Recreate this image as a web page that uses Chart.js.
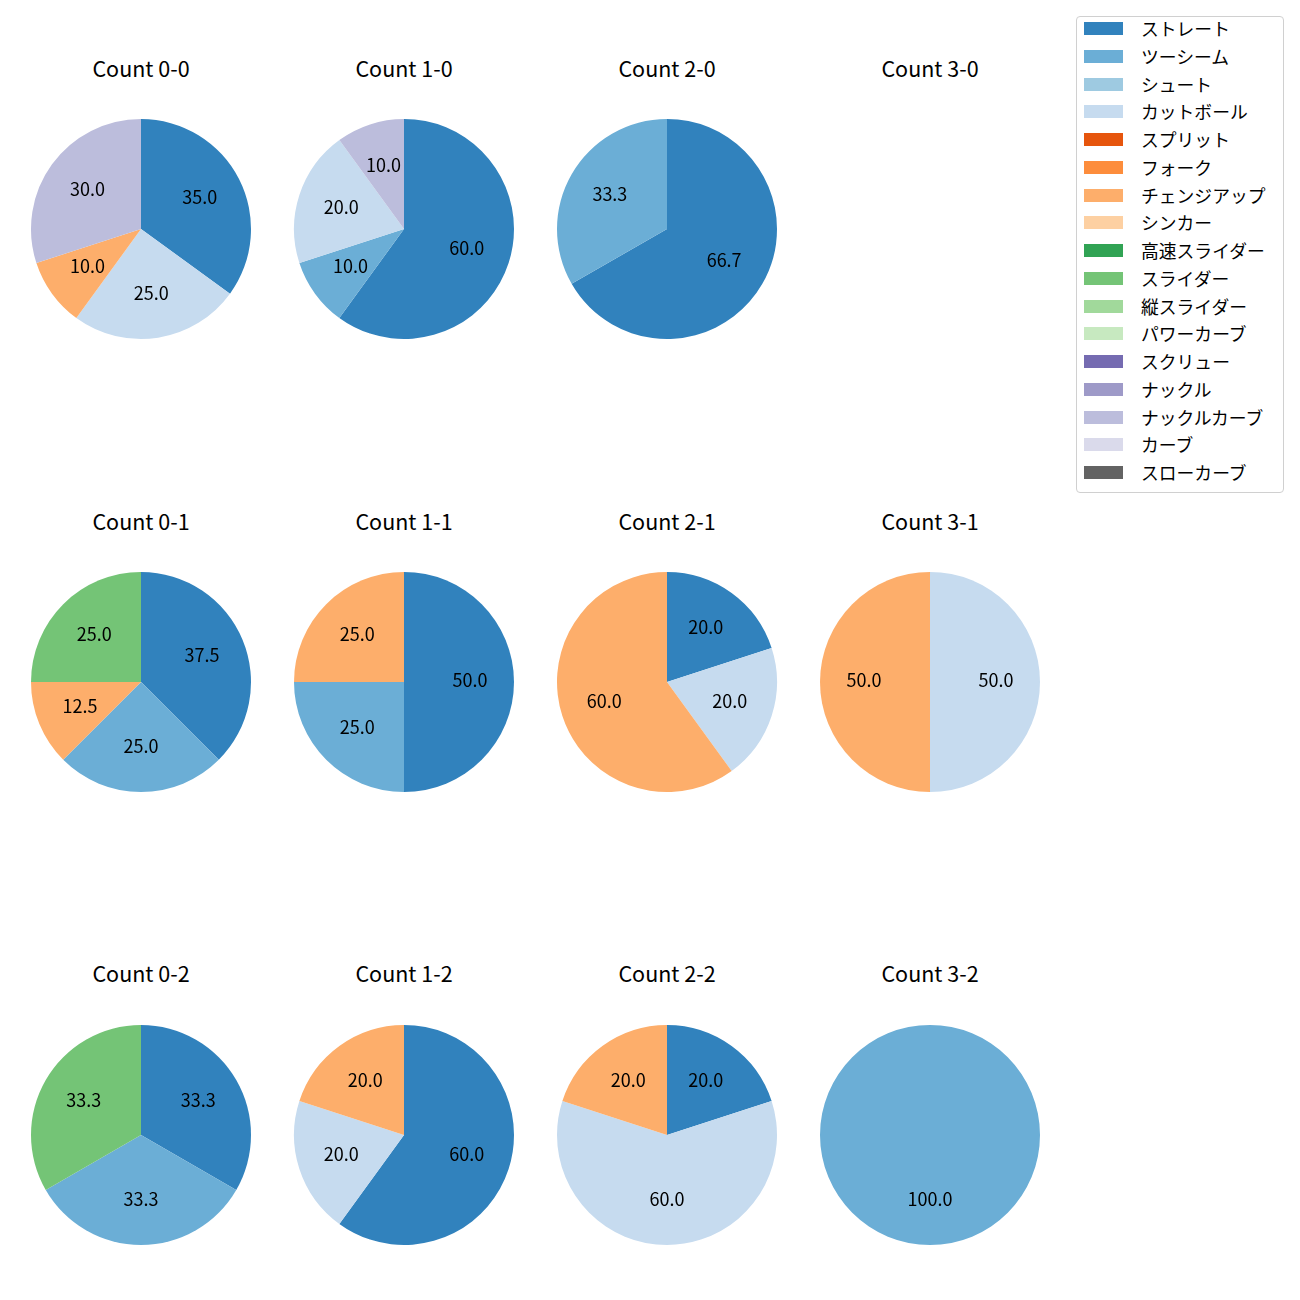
<!DOCTYPE html>
<html lang="ja">
<head>
<meta charset="UTF-8">
<title>Count pies</title>
<script src="https://cdn.jsdelivr.net/npm/chart.js@4.4.1/dist/chart.umd.min.js"></script>
<style>
  body {
    margin: 0;
    width: 1300px;
    height: 1300px;
    background: #fff;
    font-family: "Noto Sans CJK JP", sans-serif;
    position: relative;
  }
  .pie { position: absolute; }
  .title {
    position: absolute;
    width: 200px;
    text-align: center;
    font-size: 21.5px;
    line-height: 24px;
    color: #000;
  }
  #legend {
    position: absolute;
    left: 1076px;
    top: 16px;
    width: 208px;
    height: 477px;
    border: 1px solid #d0d0d0;
    border-radius: 4px;
    box-sizing: border-box;
  }
  .item {
    position: absolute;
    left: 0;
    height: 24px;
    font-size: 17.8px;
    line-height: 24px;
    color: #000;
  }
  .item span.box {
    position: absolute;
    left: 7px;
    top: 6px;
    width: 39px;
    height: 13px;
  }
  .item span.txt {
    position: absolute;
    left: 64px;
    white-space: nowrap;
  }
</style>
</head>
<body>
<div id="legend"></div>

<script>
const pitchTypes = ["ストレート", "ツーシーム", "シュート", "カットボール", "スプリット", "フォーク",
  "チェンジアップ", "シンカー", "高速スライダー", "スライダー", "縦スライダー", "パワーカーブ",
  "スクリュー", "ナックル", "ナックルカーブ", "カーブ", "スローカーブ"];
const pitchColors = ["#3182bd", "#6baed6", "#9ecae1", "#c6dbef", "#e6550d", "#fd8d3c",
  "#fdae6b", "#fdd0a2", "#31a354", "#74c476", "#a1d99b", "#c7e9c0",
  "#756bb1", "#9e9ac8", "#bcbddc", "#dadaeb", "#636363"];

const countLabels = ["Count 0-0", "Count 1-0", "Count 2-0", "Count 3-0",
  "Count 0-1", "Count 1-1", "Count 2-1", "Count 3-1",
  "Count 0-2", "Count 1-2", "Count 2-2", "Count 3-2"];

// share (%) per pitch type, same order as pitchTypes
const count00 = [35, 0, 0, 25, 0, 0, 10, 0, 0, 0, 0, 0, 0, 0, 30, 0, 0];
const count10 = [60, 10, 0, 20, 0, 0, 0, 0, 0, 0, 0, 0, 0, 0, 10, 0, 0];
const count20 = [66.7, 33.3, 0, 0, 0, 0, 0, 0, 0, 0, 0, 0, 0, 0, 0, 0, 0];
const count30 = [];
const count01 = [37.5, 25, 0, 0, 0, 0, 12.5, 0, 0, 25, 0, 0, 0, 0, 0, 0, 0];
const count11 = [50, 25, 0, 0, 0, 0, 25, 0, 0, 0, 0, 0, 0, 0, 0, 0, 0];
const count21 = [20, 0, 0, 20, 0, 0, 60, 0, 0, 0, 0, 0, 0, 0, 0, 0, 0];
const count31 = [0, 0, 0, 50, 0, 0, 50, 0, 0, 0, 0, 0, 0, 0, 0, 0, 0];
const count02 = [33.3, 33.3, 0, 0, 0, 0, 0, 0, 0, 33.3, 0, 0, 0, 0, 0, 0, 0];
const count12 = [60, 0, 0, 20, 0, 0, 20, 0, 0, 0, 0, 0, 0, 0, 0, 0, 0];
const count22 = [20, 0, 0, 60, 0, 0, 20, 0, 0, 0, 0, 0, 0, 0, 0, 0, 0];
const count32 = [0, 100, 0, 0, 0, 0, 0, 0, 0, 0, 0, 0, 0, 0, 0, 0, 0];

const countData = [count00, count10, count20, count30,
  count01, count11, count21, count31,
  count02, count12, count22, count32];

const colX = [141, 404, 667, 930];
const rowY = [229, 682, 1135];
const titleY = [68, 521, 973];
const R = 110;

// percentage labels at 0.6 of the radius, like matplotlib autopct
const pctLabels = {
  id: "pctLabels",
  afterDatasetsDraw(chart) {
    const ctx = chart.ctx;
    const data = chart.data.datasets[0].data;
    const total = data.reduce((a, b) => a + b, 0);
    ctx.save();
    ctx.font = "18px 'Noto Sans CJK JP'";
    ctx.fillStyle = "#000";
    ctx.textAlign = "center";
    ctx.textBaseline = "middle";
    chart.getDatasetMeta(0).data.forEach((arc, i) => {
      if (!data[i]) return;
      const p = arc.getProps(["x", "y", "startAngle", "endAngle", "outerRadius"], true);
      const mid = (p.startAngle + p.endAngle) / 2;
      const r = p.outerRadius * 0.6;
      ctx.fillText((data[i] / total * 100).toFixed(1), p.x + Math.cos(mid) * r, p.y + Math.sin(mid) * r - 1.5);
    });
    ctx.restore();
  }
};

countData.forEach((vals, k) => {
  const col = k % 4, row = Math.floor(k / 4);
  const t = document.createElement("div");
  t.className = "title";
  t.textContent = countLabels[k];
  t.style.left = (colX[col] - 100) + "px";
  t.style.top = (titleY[row] - 12) + "px";
  document.body.appendChild(t);

  if (!vals.length) return;
  const c = document.createElement("canvas");
  c.className = "pie";
  c.width = 2 * R + 4;
  c.height = 2 * R + 4;
  c.style.left = (colX[col] - R - 2) + "px";
  c.style.top = (rowY[row] - R - 2) + "px";
  document.body.appendChild(c);

  new Chart(c, {
    type: "pie",
    data: {
      labels: pitchTypes,
      datasets: [{
        data: vals,
        backgroundColor: pitchColors,
        borderWidth: 0
      }]
    },
    options: {
      responsive: false,
      animation: false,
      layout: { padding: 2 },
      plugins: {
        legend: { display: false },
        tooltip: { enabled: false }
      }
    },
    plugins: [pctLabels]
  });
});

// legend
const legend = document.getElementById("legend");
pitchTypes.forEach((name, i) => {
  const it = document.createElement("div");
  it.className = "item";
  it.style.top = (-1 + i * 27.75) + "px";
  it.innerHTML = '<span class="box" style="background:' + pitchColors[i] + '"></span><span class="txt">' + name + '</span>';
  legend.appendChild(it);
});
</script>
</body>
</html>
